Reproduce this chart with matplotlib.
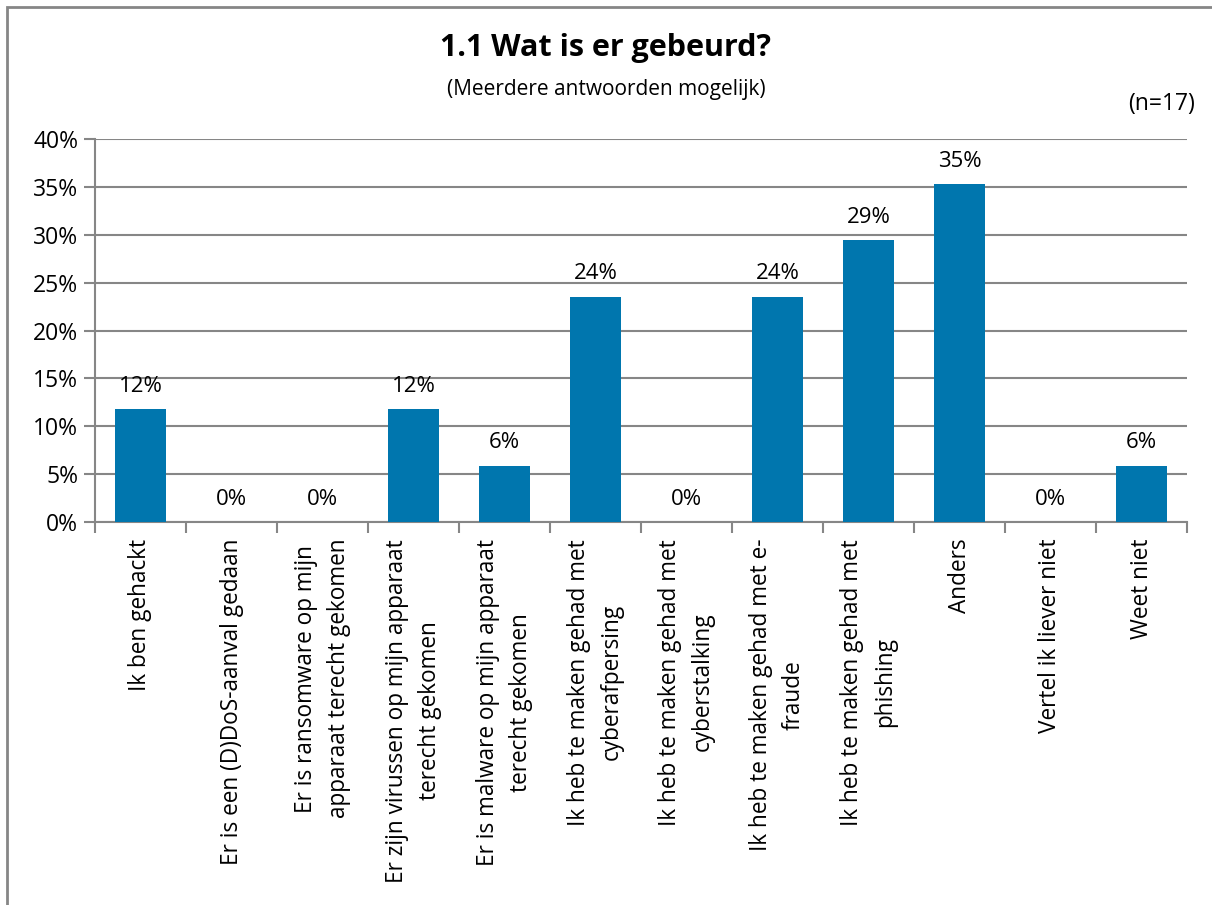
import numpy as np
import matplotlib.pyplot as plt
import matplotlib.patches as patches

# data
labels = [
    'Ik ben gehackt',
    'Er is een (D)DoS-aanval gedaan',
    'Er is ransomware op mijn\napparaat terecht gekomen',
    'Er zijn virussen op mijn apparaat\nterecht gekomen',
    'Er is malware op mijn apparaat\nterecht gekomen',
    'Ik heb te maken gehad met\ncyberafpersing',
    'Ik heb te maken gehad met\ncyberstalking',
    'Ik heb te maken gehad met e-\nfraude',
    'Ik heb te maken gehad met\nphishing',
    'Anders',
    'Vertel ik liever niet',
    'Weet niet',
]
values = [11.8, 0, 0, 11.8, 5.9, 23.5, 0, 23.5, 29.4, 35.3, 0, 5.9]
yticks = [0, 5, 10, 15, 20, 25, 30, 35, 40]

plt.rcParams['font.family'] = ['Open Sans', 'DejaVu Sans']
grey = '#868686'
blue = '#0076AE'

fig = plt.figure(figsize=(12.12, 9.05), dpi=100)
ax = fig.add_axes([95/1212, 1-522/905, (1187-95)/1212, (522-139)/905])

x = np.arange(len(values))
ax.bar(x, values, width=0.57, color=blue, zorder=3)
for xi, v in zip(x, values):
    ax.annotate(f'{v:.0f}%', (xi, v), xytext=(0, 9), textcoords='offset points',
                ha='center', va='bottom', fontsize=16)

ax.set_xlim(-0.5, len(values) - 0.5)
ax.set_ylim(0, 40)
ax.set_yticks(yticks)
ax.set_yticklabels([f'{t}%' for t in yticks], fontsize=16.5)
ax.yaxis.grid(True, color=grey, linewidth=1.5, zorder=0)
ax.tick_params(axis='y', length=8, width=1.5, color=grey, pad=4)

# category labels + boundary ticks
ax.set_xticks(np.arange(len(values) + 1) - 0.5)
ax.set_xticklabels([])
ax.tick_params(axis='x', length=8, width=1.5, color=grey)
for xi, lab in zip(x, labels):
    ax.text(xi, -1.75, lab, rotation=90, ha='center', va='top', multialignment='center',
            fontsize=16.3, linespacing=1.5)

for s in ['top', 'right']:
    ax.spines[s].set_visible(False)
for s in ['left', 'bottom']:
    ax.spines[s].set_color(grey)
    ax.spines[s].set_linewidth(1.5)

fig.text(0.5, 1-48/905, '1.1 Wat is er gebeurd?', ha='center', va='center',
         fontsize=22, fontweight='bold')
fig.text(0.5, 1-90/905, '(Meerdere antwoorden mogelijk)', ha='center', va='center', fontsize=15)
fig.text(1195/1212, 1-104/905, '(n=17)', ha='right', va='center', fontsize=16.5)

# outer chart frame
fig.patches.append(patches.Rectangle((7/1212, -0.1), 1.1, 1-7/905 + 0.1, transform=fig.transFigure,
                                     fill=False, edgecolor=grey, linewidth=2))

fig.savefig('out.png', dpi=100)
